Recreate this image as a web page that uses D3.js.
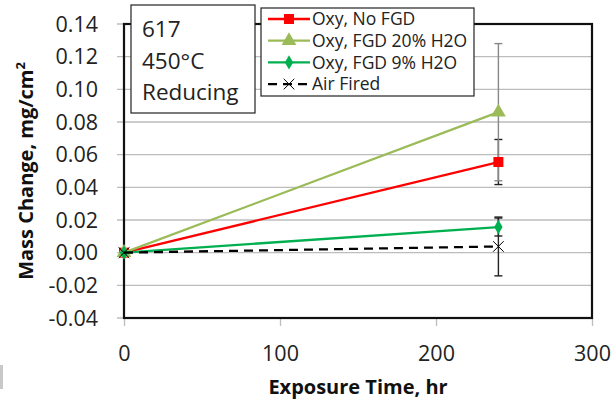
<!DOCTYPE html>
<html>
<head>
<meta charset="utf-8">
<script src="https://cdn.jsdelivr.net/npm/d3@7"></script>
<style>
  html, body { margin: 0; padding: 0; background: #fff; }
  svg { display: block; font-family: "Open Sans", sans-serif; }
</style>
</head>
<body>
<svg id="chart" width="614" height="401"></svg>
<script>
// Exposure times (hr)
const times = [0, 240];

// Mass change series (mg/cm^2) and their standard deviations
const seriesNames = ["Oxy, No FGD", "Oxy, FGD 20% H2O", "Oxy, FGD 9% H2O", "Air Fired"];
const noFgd = [0, 0.0555];
const fgd20 = [0, 0.086];
const fgd9 = [0, 0.0157];
const airFired = [0, 0.0038];
const noFgdErr = [0, 0.0138];
const fgd20Err = [0, 0.042];
const fgd9Err = [0, 0.0055];
const airFiredErr = [0, 0.018];

const xTicks = [0, 100, 200, 300];
const yTicks = [-0.04, -0.02, 0, 0.02, 0.04, 0.06, 0.08, 0.10, 0.12, 0.14];
const noteLines = ["617", "450°C", "Reducing"];

const colors = ["#ff0000", "#9bbb59", "#00b050", "#000000"];
const symbols = ["square", "triangle", "diamond", "cross"];
const errColors = ["#222", "#888", "#222", "#222"];

const series = [noFgd, fgd20, fgd9, airFired].map((vals, i) => ({
  name: seriesNames[i],
  color: colors[i],
  symbol: symbols[i],
  errColor: errColors[i],
  points: times.map((t, j) => ({ t, v: vals[j], e: [noFgdErr, fgd20Err, fgd9Err, airFiredErr][i][j] }))
}));

const svg = d3.select("#chart");
const m = { left: 124, right: 22, top: 24, bottom: 83 };
const W = 614, H = 401;
const x = d3.scaleLinear().domain([0, 300]).range([m.left, W - m.right]);
const y = d3.scaleLinear().domain([-0.04, 0.14]).range([H - m.bottom, m.top]);
const fmtY = d => d3.format(".2f")(d).replace("\u2212", "-");

// Gridlines
svg.append("g").selectAll("line").data(yTicks).join("line")
  .attr("x1", x(0) - 7).attr("x2", x(300))
  .attr("y1", d => y(d)).attr("y2", d => y(d))
  .attr("stroke", "#bdbdbd").attr("stroke-width", 1.3);

// Y tick labels
svg.append("g").selectAll("text").data(yTicks).join("text")
  .attr("x", 98).attr("y", d => y(d)).attr("dy", "0.36em")
  .attr("text-anchor", "end").attr("font-size", 21.5).attr("fill", "#222")
  .text(fmtY);

// X ticks
const xAxis = d3.axisBottom(x).tickValues(xTicks).tickSize(8).tickPadding(20).tickFormat(d3.format("d"));
const gx = svg.append("g").attr("transform", `translate(0,${y(-0.04)})`).call(xAxis);
gx.select(".domain").remove();
gx.selectAll(".tick line").attr("stroke", "#bdbdbd").attr("stroke-width", 1.3);
gx.selectAll(".tick text").attr("font-size", 21.5).attr("fill", "#222")
  .attr("font-family", "'Open Sans', sans-serif");

// Plot frame
svg.append("rect")
  .attr("x", x(0)).attr("y", y(0.14))
  .attr("width", x(300) - x(0)).attr("height", y(-0.04) - y(0.14))
  .attr("fill", "none").attr("stroke", "#111").attr("stroke-width", 2.2);

// Error bars
series.forEach(s => {
  const g = svg.append("g");
  s.points.filter(p => p.e > 0).forEach(p => {
    g.append("line").attr("x1", x(p.t)).attr("x2", x(p.t))
      .attr("y1", y(p.v - p.e)).attr("y2", y(p.v + p.e))
      .attr("stroke", s.errColor).attr("stroke-width", 1.4);
    [p.v - p.e, p.v + p.e].forEach(v => {
      g.append("line").attr("x1", x(p.t) - 4).attr("x2", x(p.t) + 4)
        .attr("y1", y(v)).attr("y2", y(v))
        .attr("stroke", s.errColor).attr("stroke-width", 1.4);
    });
  });
});

const line = d3.line().x(p => x(p.t)).y(p => y(p.v));

function drawMarker(g, s, cx, cy) {
  if (s.symbol === "square") {
    g.append("rect").attr("x", cx - 5).attr("y", cy - 5).attr("width", 10).attr("height", 10).attr("fill", s.color);
  } else if (s.symbol === "triangle") {
    g.append("path").attr("d", d3.symbol(d3.symbolTriangle, 95)()).attr("transform", `translate(${cx},${cy})`).attr("fill", s.color);
  } else if (s.symbol === "diamond") {
    g.append("path").attr("d", d3.symbol(d3.symbolDiamond, 60)()).attr("transform", `translate(${cx},${cy})`).attr("fill", s.color);
  } else {
    g.append("path").attr("d", d3.symbol(d3.symbolTimes, 75)()).attr("transform", `translate(${cx},${cy})`)
      .attr("fill", "none").attr("stroke", s.color).attr("stroke-width", 1);
  }
}

// Series lines and markers (air fired drawn last so its dashes sit on top)
series.forEach(s => {
  const g = svg.append("g");
  g.append("path").datum(s.points).attr("d", line)
    .attr("fill", "none").attr("stroke", s.color).attr("stroke-width", 2.3)
    .attr("stroke-dasharray", s.symbol === "cross" ? "9,6" : null);
  s.points.forEach(p => drawMarker(g, s, x(p.t), y(p.v)));
});

// Condition note box
const note = svg.append("g");
note.append("rect").attr("x", 131).attr("y", 5).attr("width", 124).attr("height", 108)
  .attr("fill", "#fff").attr("stroke", "#222").attr("stroke-width", 1.2);
noteLines.forEach((t, i) => {
  note.append("text").attr("x", 142).attr("y", 37 + i * 31.5).attr("font-size", 22.5).attr("fill", "#222").text(t);
});

// Legend
const leg = svg.append("g");
leg.append("rect").attr("x", 261).attr("y", 8).attr("width", 213).attr("height", 88)
  .attr("fill", "#fff").attr("stroke", "#222").attr("stroke-width", 1.2);
series.forEach((s, i) => {
  const cy = 19 + i * 21.7;
  leg.append("line").attr("x1", 268).attr("x2", 310).attr("y1", cy).attr("y2", cy)
    .attr("stroke", s.color).attr("stroke-width", 2.3)
    .attr("stroke-dasharray", s.symbol === "cross" ? "9,6" : null);
  drawMarker(leg, s, 289, cy);
  leg.append("text").attr("x", 312).attr("y", cy).attr("dy", "0.36em")
    .attr("font-size", 17.5).attr("fill", "#222").text(s.name);
});

// Axis titles
svg.append("text").attr("x", 358).attr("y", 394).attr("text-anchor", "middle")
  .attr("font-size", 20).attr("font-weight", "bold").attr("fill", "#111").text("Exposure Time, hr");
const yt = svg.append("text").attr("transform", "translate(33,171) rotate(-90)")
  .attr("text-anchor", "middle").attr("font-size", 20).attr("font-weight", "bold").attr("fill", "#111");
yt.append("tspan").text("Mass Change, mg/cm");
yt.append("tspan").attr("dy", -8).attr("font-size", 13).text("2");

// Small gray tab at lower left
svg.append("rect").attr("x", 0).attr("y", 365).attr("width", 3).attr("height", 24).attr("fill", "#c8c8c8");
</script>
</body>
</html>
